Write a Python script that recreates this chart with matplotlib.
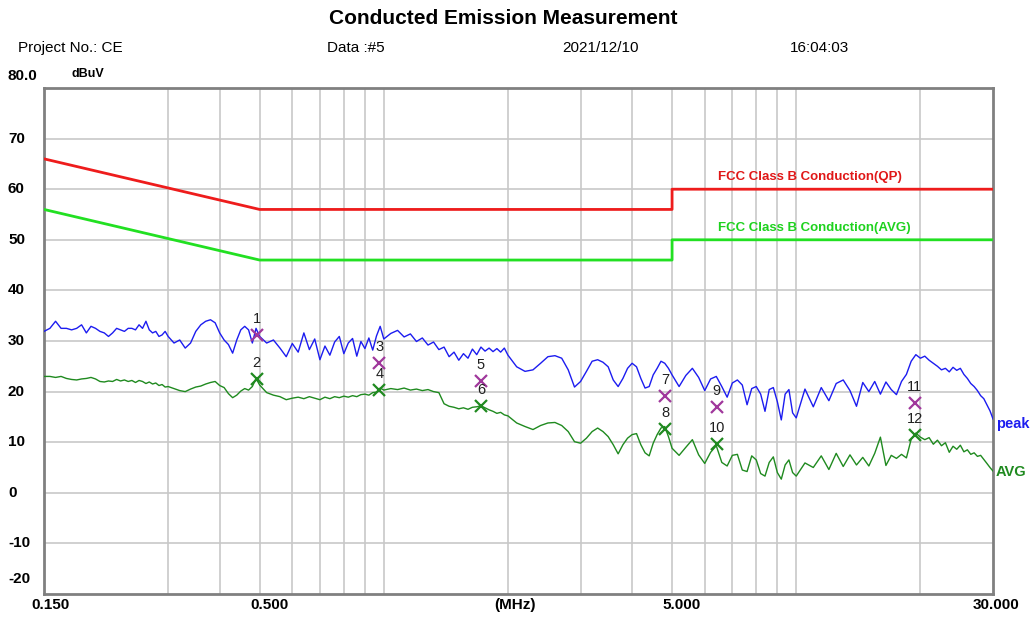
"""
伝導エミッション測定結果のプロット (FCC Class B)
"""

import matplotlib
matplotlib.use('Agg')
import matplotlib.pyplot as plt

plt.rcParams['font.family'] = ['Liberation Sans', 'DejaVu Sans']

# 測定周波数 (MHz)
freq = [
    0.150, 0.155, 0.160, 0.165, 0.170, 0.175, 0.180, 0.185, 0.190, 0.195,
    0.200, 0.205, 0.210, 0.215, 0.220, 0.225, 0.230, 0.235, 0.240, 0.245,
    0.250, 0.255, 0.260, 0.265, 0.270, 0.275, 0.280, 0.285, 0.290, 0.295,
    0.300, 0.31, 0.32, 0.33, 0.34, 0.35, 0.36, 0.37, 0.38, 0.39,
    0.40, 0.41, 0.42, 0.43, 0.44, 0.45, 0.46, 0.47, 0.48, 0.49, 0.50,
    0.52, 0.54, 0.56, 0.58, 0.60, 0.62, 0.64, 0.66, 0.68, 0.70,
    0.72, 0.74, 0.76, 0.78, 0.80, 0.82, 0.84, 0.86, 0.88, 0.90,
    0.92, 0.94, 0.96, 0.98, 1.00,
    1.04, 1.08, 1.12, 1.16, 1.20, 1.24, 1.28, 1.32, 1.36, 1.40,
    1.44, 1.48, 1.52, 1.56, 1.60, 1.64, 1.68, 1.72, 1.76, 1.80,
    1.84, 1.88, 1.92, 1.96, 2.00,
    2.1, 2.2, 2.3, 2.4, 2.5, 2.6, 2.7, 2.8, 2.9, 3.0,
    3.1, 3.2, 3.3, 3.4, 3.5, 3.6, 3.7, 3.8, 3.9, 4.0,
    4.1, 4.2, 4.3, 4.4, 4.5, 4.6, 4.7, 4.8, 4.9, 5.0,
    5.2, 5.4, 5.6, 5.8, 6.0, 6.2, 6.4, 6.6, 6.8, 7.0,
    7.2, 7.4, 7.6, 7.8, 8.0, 8.2, 8.4, 8.6, 8.8, 9.0,
    9.2, 9.4, 9.6, 9.8, 10.0,
    10.5, 11.0, 11.5, 12.0, 12.5, 13.0, 13.5, 14.0, 14.5, 15.0,
    15.5, 16.0, 16.5, 17.0, 17.5, 18.0, 18.5, 19.0, 19.5, 20.0,
    20.5, 21.0, 21.5, 22.0, 22.5, 23.0, 23.5, 24.0, 24.5, 25.0,
    25.5, 26.0, 26.5, 27.0, 27.5, 28.0, 28.5, 29.0, 29.5, 30.0,
]

# ピーク値 (dBuV)
peak = [
    31.9, 32.5, 33.9, 32.5, 32.5, 32.2, 32.5, 33.2, 31.6, 32.9,
    32.5, 31.9, 31.6, 30.9, 31.6, 32.5, 32.2, 31.9, 32.5, 32.5,
    32.2, 33.2, 32.5, 33.9, 32.2, 31.6, 31.9, 30.9, 31.2, 31.9,
    30.9, 29.6, 30.2, 28.6, 29.6, 31.9, 33.2, 33.9, 34.2, 33.6,
    31.6, 30.2, 29.3, 27.6, 30.2, 32.2, 32.9, 32.2, 29.6, 32.5, 30.9,
    29.6, 30.2, 28.6, 26.9, 29.5, 27.8, 31.6, 28.3, 30.4, 26.3,
    29.0, 27.2, 29.8, 30.9, 27.5, 29.6, 30.5, 27.0, 29.9, 28.5,
    30.6, 28.2, 31.0, 32.9, 30.4,
    31.5, 32.1, 30.8, 31.4, 29.9, 30.6, 29.2, 29.8, 28.3, 28.8,
    26.9, 27.8, 26.2, 27.5, 26.6, 28.4, 27.3, 28.8, 28.0, 28.6,
    27.9, 28.5, 27.8, 28.6, 27.2,
    24.9, 24.0, 24.3, 25.6, 26.9, 27.1, 26.6, 24.3, 20.9, 22.0,
    24.0, 26.0, 26.3, 25.8, 24.9, 22.3, 21.0, 22.6, 24.6, 25.6,
    24.9, 22.6, 20.7, 21.0, 23.3, 24.6, 26.0, 25.6, 24.6, 23.3,
    21.0, 23.2, 24.6, 22.8, 20.2, 22.5, 23.0, 21.0, 18.9, 21.7,
    22.3, 21.3, 17.4, 20.6, 21.0, 19.5, 16.1, 20.4, 20.8, 18.0,
    14.4, 19.5, 20.4, 15.8, 14.8,
    20.5, 17.0, 20.8, 18.2, 21.6, 22.3, 20.2, 17.1, 21.8, 20.0,
    22.0, 19.5, 21.9, 20.4, 19.4, 22.0, 23.4, 26.0, 27.3, 26.6,
    27.0, 26.2, 25.6, 25.0, 24.3, 24.6, 23.9, 24.8, 24.2, 24.6,
    23.4, 22.6, 21.6, 21.0, 20.2, 19.2, 18.6, 17.4, 16.2, 14.6,
]

# 平均値 (dBuV)
avg = [
    23.0, 23.0, 22.8, 23.0, 22.6, 22.4, 22.3, 22.5, 22.6, 22.8,
    22.5, 22.0, 21.9, 22.1, 22.0, 22.4, 22.1, 22.3, 22.0, 22.2,
    21.8, 22.2, 22.0, 21.6, 21.9, 21.5, 21.7, 21.2, 21.4, 20.9,
    21.0, 20.6, 20.2, 20.0, 20.5, 20.9, 21.1, 21.5, 21.8, 22.0,
    21.2, 20.8, 19.6, 18.8, 19.3, 20.1, 20.6, 20.3, 21.0, 22.6, 21.3,
    19.8, 19.3, 19.0, 18.4, 18.7, 18.9, 18.6, 19.0, 18.7, 18.4,
    18.9, 18.6, 19.0, 18.8, 19.1, 18.9, 19.2, 19.0, 19.4, 19.5,
    19.3, 19.8, 19.9, 20.7, 20.3,
    20.6, 20.4, 20.7, 20.3, 20.5, 20.2, 20.4, 20.0, 19.8, 17.6,
    17.1, 16.9, 16.6, 16.8, 16.5, 16.9, 17.0, 17.2, 16.8, 16.4,
    16.1, 15.7, 15.9, 15.4, 15.2,
    13.8, 13.1, 12.5, 13.3, 13.8, 13.9, 13.3, 12.1, 10.1, 9.8,
    10.8, 12.1, 12.8, 12.1, 11.1, 9.5, 7.7, 9.5, 10.8, 11.5,
    11.7, 9.5, 7.9, 7.3, 9.8, 11.5, 12.8, 13.1, 11.1, 8.8,
    7.4, 9.0, 10.5, 7.5, 5.8, 8.0, 9.3, 6.0, 5.3, 7.4,
    7.6, 4.5, 4.2, 7.3, 6.5, 3.8, 3.3, 6.0, 7.1, 4.0,
    2.7, 5.5, 6.5, 4.0, 3.3,
    5.9, 5.0, 7.3, 4.6, 7.8, 5.2, 7.5, 5.5, 7.0, 5.3,
    7.8, 11.0, 5.4, 7.4, 6.8, 7.6, 6.9, 10.6, 11.8, 11.0,
    10.5, 10.9, 9.6, 10.4, 9.3, 9.9, 8.0, 9.2, 8.6, 9.4,
    8.1, 8.5, 7.6, 7.9, 7.2, 7.4, 6.6, 5.8, 5.0, 4.3,
]

# 規格ライン (FCC Class B)
limit_freq = [0.15, 0.5, 5.0, 5.0, 30.0]
limit_qp = [66.0, 56.0, 56.0, 60.0, 60.0]
limit_avg = [56.0, 46.0, 46.0, 50.0, 50.0]

# マーカー (1-12)
marker_no = [1, 2, 3, 4, 5, 6, 7, 8, 9, 10, 11, 12]
marker_freq = [0.492, 0.492, 0.975, 0.975, 1.72, 1.72, 4.81, 4.81, 6.42, 6.42, 19.4, 19.4]
marker_level = [31.2, 22.5, 25.6, 20.4, 22.1, 17.2, 19.2, 12.6, 16.9, 9.6, 17.8, 11.5]

x_grid = [0.3, 0.4, 0.5, 0.6, 0.7, 0.8, 0.9, 1, 2, 3, 4, 5, 6, 7, 8, 9, 10, 20]
y_ticks = [70, 60, 50, 40, 30, 20, 10, 0, -10]
x_labels = [(0.15, '0.150', 7), (0.5, '0.500', 10), (2.08, '(MHz)', 0),
            (5.0, '5.000', 10), (30.0, '30.000', 3)]

fig = plt.figure(figsize=(10.32, 6.17), dpi=100)
ax = fig.add_axes([44 / 1032, 1 - 594 / 617, 949 / 1032, 506 / 617])

ax.set_xscale('log')
ax.set_xlim(0.15, 30)
ax.set_ylim(-20, 80)

# グリッド
for f in x_grid:
    ax.axvline(f, color='#c8c8c8', lw=1.2, zorder=0)
for v in y_ticks:
    ax.axhline(v, color='#c8c8c8', lw=1.2, zorder=0)

ax.set_xticks([])
ax.set_xticks([], minor=True)
ax.set_yticks([])
for s in ax.spines.values():
    s.set_color('#808080')
    s.set_linewidth(2)

# 規格ライン
ax.plot(limit_freq, limit_qp, color='#ee1c1c', lw=2, zorder=3)
ax.plot(limit_freq, limit_avg, color='#22e022', lw=2, zorder=3)
ax.text(6.46, 62.4, 'FCC Class B Conduction(QP)', color='#e01818',
        fontsize=9.5, fontweight='bold', va='center')
ax.text(6.46, 52.4, 'FCC Class B Conduction(AVG)', color='#1ed21e',
        fontsize=9.5, fontweight='bold', va='center')

# 測定トレース
ax.plot(freq, peak, color='#1c1cf0', lw=1.0, zorder=4)
ax.plot(freq, avg, color='#1f8a1f', lw=1.0, zorder=4)

# マーカー
for no, f, v in zip(marker_no, marker_freq, marker_level):
    c = '#a0389c' if no % 2 == 1 else '#208a20'
    ax.plot(f, v, marker='x', ms=8, mew=1.6, color=c, zorder=5)
    ax.annotate(str(no), (f, v), xytext=(0, 9), textcoords='offset pixels',
                ha='center', va='bottom', fontsize=10.5, color='#202020', zorder=6)

# 軸ラベル
for v in y_ticks:
    ax.annotate(str(v), (8, v), xycoords=('figure pixels', 'data'),
                ha='left', va='center', fontsize=11, fontweight='bold')
fig.text(8 / 1032, 1 - 76 / 617, '80.0', ha='left', va='center',
         fontsize=11, fontweight='bold')
fig.text(8 / 1032, 1 - 579 / 617, '-20', ha='left', va='center',
         fontsize=11, fontweight='bold')
fig.text(72 / 1032, 1 - 74 / 617, 'dBuV', ha='left', va='center',
         fontsize=9, fontweight='bold')
for f, lab, dx in x_labels:
    ax.annotate(lab, (f, 0), xycoords=('data', 'figure pixels'),
                xytext=(dx, 12), textcoords='offset pixels',
                ha='center', va='center', fontsize=11, fontweight='bold')

# トレース名
fig.text(996 / 1032, 1 - 424 / 617, 'peak', color='#1c1cf0', ha='left',
         va='center', fontsize=10.5, fontweight='bold')
fig.text(996 / 1032, 1 - 472 / 617, 'AVG', color='#1f8a1f', ha='left',
         va='center', fontsize=10.5, fontweight='bold')

# タイトルとヘッダ
fig.text(503 / 1032, 1 - 18 / 617, 'Conducted Emission Measurement',
         ha='center', va='center', fontsize=15, fontweight='bold')
fig.text(18 / 1032, 1 - 48 / 617, 'Project No.: CE', ha='left', va='center', fontsize=11)
fig.text(327 / 1032, 1 - 48 / 617, 'Data :#5', ha='left', va='center', fontsize=11)
fig.text(562 / 1032, 1 - 48 / 617, '2021/12/10', ha='left', va='center', fontsize=11)
fig.text(790 / 1032, 1 - 48 / 617, '16:04:03', ha='left', va='center', fontsize=11)

fig.savefig('out.png', dpi=100)
